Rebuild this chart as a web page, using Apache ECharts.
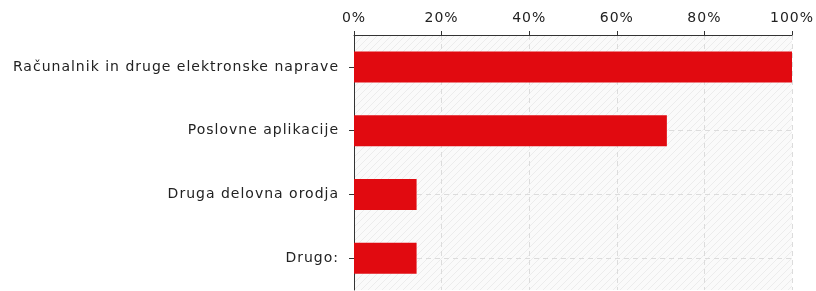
<!DOCTYPE html>
<html>
<head>
<meta charset="utf-8">
<script src="https://cdn.jsdelivr.net/npm/echarts@6/dist/echarts.min.js"></script>
<style>
  html, body { margin: 0; padding: 0; background: #fff; }
  #chart { width: 816px; height: 291px; }
</style>
</head>
<body>
<div id="chart"></div>
<script>
var categories = ['Računalnik in druge elektronske naprave', 'Poslovne aplikacije', 'Druga delovna orodja', 'Drugo:'];
var values = [100, 71.43, 14.29, 14.29];
var tickValues = [0, 20, 40, 60, 80, 100];

// the original text is set a bit looser than canvas default
var origFillText = CanvasRenderingContext2D.prototype.fillText;
CanvasRenderingContext2D.prototype.fillText = function () {
    this.letterSpacing = '1px';
    return origFillText.apply(this, arguments);
};

// diagonal hatch for the plot background
var hatch = document.createElement('canvas');
hatch.width = 7;
hatch.height = 7;
var ctx = hatch.getContext('2d');
ctx.fillStyle = '#fafafa';
ctx.fillRect(0, 0, 7, 7);
ctx.strokeStyle = '#ececec';
ctx.lineWidth = 1;
ctx.beginPath();
ctx.moveTo(-1, 8); ctx.lineTo(8, -1);
ctx.moveTo(-8, 8); ctx.lineTo(1, -1);
ctx.moveTo(6, 8); ctx.lineTo(15, -1);
ctx.stroke();

var myChart = echarts.init(document.getElementById('chart'));
var option = {
    animation: false,
    textStyle: { fontFamily: 'DejaVu Sans' },
    grid: {
        left: 354, right: 24, top: 35, bottom: 1,
        show: true,
        borderWidth: 0,
        backgroundColor: { image: hatch, repeat: 'repeat' }
    },
    xAxis: {
        type: 'value',
        position: 'top',
        min: tickValues[0],
        max: tickValues[tickValues.length - 1],
        interval: 20,
        axisLine: { show: true, lineStyle: { color: '#333', width: 1 } },
        axisTick: { show: true, length: 4, lineStyle: { color: '#333' } },
        axisLabel: { formatter: '{value}%', color: '#222', fontSize: 14, margin: 10 },
        splitLine: { show: true, lineStyle: { color: '#dcdcdc', type: [5, 4] } }
    },
    yAxis: {
        type: 'category',
        inverse: true,
        data: categories,
        axisLine: { show: true, lineStyle: { color: '#333', width: 1 } },
        axisTick: { show: true, length: 5, alignWithLabel: true, lineStyle: { color: '#333' } },
        axisLabel: { color: '#222', fontSize: 14, margin: 15 },
        splitLine: { show: true, alignWithLabel: true, lineStyle: { color: '#dcdcdc', type: [5, 4] } }
    },
    series: [{
        type: 'bar',
        data: values,
        barWidth: 31,
        itemStyle: { color: '#e10a10' },
        silent: true
    }]
};
myChart.setOption(option);
</script>
</body>
</html>
